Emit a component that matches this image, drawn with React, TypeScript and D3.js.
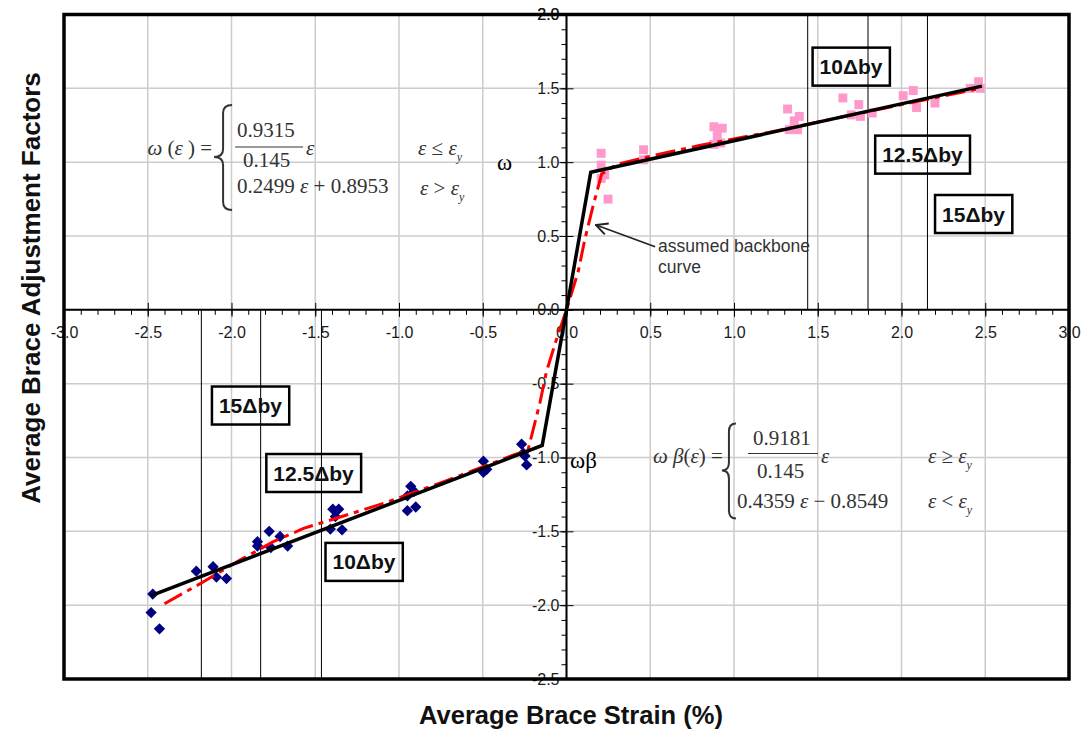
import React, { useEffect, useRef } from 'react';
import * as d3 from 'd3';

// tension side test points (pink squares)
const tensionStrain = [0.207, 0.207, 0.228, 0.207, 0.248, 0.46, 0.46, 0.88, 0.93, 0.9, 0.88, 0.92,
  1.32, 1.39, 1.36, 1.33, 1.38, 1.65, 1.745, 1.7, 1.755, 1.825, 2.01, 2.07, 2.09, 2.2, 2.41, 2.46, 2.47];
const tensionFactor = [1.06, 0.98, 0.914, 0.89, 0.75, 1.084, 1.016, 1.24, 1.23, 1.18, 1.12, 1.13,
  1.36, 1.31, 1.28, 1.22, 1.22, 1.435, 1.39, 1.32, 1.31, 1.333, 1.45, 1.485, 1.37, 1.4, 1.5, 1.545, 1.5];

// compression side test points (navy diamonds)
const compStrain = [-2.47, -2.48, -2.43, -2.21, -2.11, -2.09, -2.03, -1.845, -1.845, -1.775, -1.765, -1.71,
  -1.665, -1.395, -1.36, -1.38, -1.41, -1.34, -0.93, -0.91, -0.95, -0.9, -0.95, -0.496, -0.476, -0.496,
  -0.268, -0.258, -0.238, -0.248];
const compFactor = [-1.925, -2.05, -2.16, -1.77, -1.74, -1.81, -1.82, -1.57, -1.6, -1.5, -1.61, -1.535,
  -1.6, -1.35, -1.35, -1.4, -1.485, -1.49, -1.195, -1.23, -1.26, -1.335, -1.36, -1.025, -1.08, -1.1,
  -0.91, -0.97, -1.05, -0.99];

// assumed backbone (black)
const backboneStrain = [-2.48, -0.145, 0, 0.145, 2.48];
const backboneFactor = [-1.936, -0.918, 0, 0.9315, 1.515];

// fitted curve (red dash-dot)
const fitStrain = [-2.4, -2.29, -2.18, -1.95, -1.75, -1.57, -1.3, -1.09, -0.7, -0.32, -0.23, -0.158, -0.12,
  -0.06, 0, 0.07, 0.11, 0.16, 0.21, 0.3, 0.5, 0.8, 1.2, 1.6, 2.0, 2.47];
const fitFactor = [-1.99, -1.92, -1.85, -1.695, -1.57, -1.48, -1.385, -1.31, -1.15, -0.985, -0.95, -0.626, -0.42,
  -0.2, 0, 0.26, 0.48, 0.71, 0.92, 0.985, 1.04, 1.115, 1.2, 1.295, 1.39, 1.5];

// ductility levels
const driftLabels = ['10Δby', '12.5Δby', '15Δby'];
const tensionDrift = [1.44, 1.8, 2.155];
const compDrift = [-1.463, -1.826, -2.18];
// label box centres (data units)
const tensionLabelX = [1.699, 2.125, 2.43];
const tensionLabelY = [1.647, 1.051, 0.649];
const compLabelX = [-1.209, -1.51, -1.887];
const compLabelY = [-1.707, -1.105, -0.648];

const sans = '"Liberation Sans", Arial, sans-serif';
const serif = '"Liberation Serif", "Times New Roman", serif';

type Part = { t: string; i?: boolean; sub?: boolean };

const App = () => {
  const svgRef = useRef<SVGSVGElement>(null);

  useEffect(() => {
    const svg = d3.select(svgRef.current);
    svg.selectAll('*').remove();

    const x = d3.scaleLinear().domain([-3, 3]).range([64, 1069]);
    const y = d3.scaleLinear().domain([-2.5, 2]).range([679, 14.5]);

    const majorX = d3.range(-6, 7).map(i => i / 2);
    const majorY = d3.range(-5, 5).map(i => i / 2);
    const minorX = d3.range(-30, 31).map(i => i / 10);
    const minorY = d3.range(-25, 21).map(i => i / 10);

    // grid
    const grid = svg.append('g').attr('stroke', '#cccccc').attr('stroke-width', 1.5);
    grid.selectAll('.gx').data(majorX).enter().append('line')
      .attr('x1', d => x(d)).attr('x2', d => x(d)).attr('y1', y(2)).attr('y2', y(-2.5));
    grid.selectAll('.gy').data(majorY).enter().append('line')
      .attr('x1', x(-3)).attr('x2', x(3)).attr('y1', d => y(d)).attr('y2', d => y(d));

    // ductility lines
    svg.append('g').selectAll('line').data(tensionDrift).enter().append('line')
      .attr('x1', d => x(d)).attr('x2', d => x(d)).attr('y1', y(2)).attr('y2', y(0))
      .attr('stroke', '#000').attr('stroke-width', 1);
    svg.append('g').selectAll('line').data(compDrift).enter().append('line')
      .attr('x1', d => x(d)).attr('x2', d => x(d)).attr('y1', y(0)).attr('y2', y(-2.5))
      .attr('stroke', '#000').attr('stroke-width', 1);

    // axes through origin
    svg.append('line').attr('x1', x(-3)).attr('x2', x(3)).attr('y1', y(0)).attr('y2', y(0))
      .attr('stroke', '#000').attr('stroke-width', 2);
    svg.append('line').attr('x1', x(0)).attr('x2', x(0)).attr('y1', y(2)).attr('y2', y(-2.5))
      .attr('stroke', '#000').attr('stroke-width', 2);

    const xMinor = svg.append('g').attr('transform', `translate(0,${y(0)})`)
      .call(d3.axisBottom(x).tickValues(minorX).tickSize(5).tickFormat(() => ''));
    const xMajor = svg.append('g').attr('transform', `translate(0,${y(0)})`)
      .call(d3.axisBottom(x).tickValues(majorX).tickSize(7).tickPadding(10)
        .tickFormat(d => (+d).toFixed(1)));
    xMajor.selectAll('.tick line').attr('y1', -7);
    const yMinor = svg.append('g').attr('transform', `translate(${x(0)},0)`)
      .call(d3.axisLeft(y).tickValues(minorY).tickSize(5).tickFormat(() => ''));
    const yMajor = svg.append('g').attr('transform', `translate(${x(0)},0)`)
      .call(d3.axisLeft(y).tickValues(majorY.concat([2])).tickSize(7).tickPadding(0)
        .tickFormat(d => (+d).toFixed(1)));
    yMajor.selectAll('.tick line').attr('x1', 7);
    [xMinor, xMajor, yMinor, yMajor].forEach(g => {
      g.select('.domain').remove();
      g.selectAll('.tick line').attr('stroke', '#000').attr('stroke-width', 1);
      g.selectAll('text').style('font-family', sans).style('font-size', '16px').attr('fill', '#1a1a1a');
    });

    // frame
    svg.append('rect').attr('x', x(-3)).attr('y', y(2))
      .attr('width', x(3) - x(-3)).attr('height', y(-2.5) - y(2))
      .attr('fill', 'none').attr('stroke', '#000').attr('stroke-width', 3.5);

    // test points
    svg.append('g').selectAll('path').data(tensionStrain).enter().append('path')
      .attr('d', d3.symbol(d3.symbolSquare, 80)())
      .attr('transform', (d, i) => `translate(${x(d)},${y(tensionFactor[i])})`)
      .attr('fill', '#ff99cc');
    svg.append('g').selectAll('path').data(compStrain).enter().append('path')
      .attr('d', d3.symbol(d3.symbolSquare, 64)())
      .attr('transform', (d, i) => `translate(${x(d)},${y(compFactor[i])}) rotate(45)`)
      .attr('fill', '#000080');

    // fitted curve
    const fitLine = d3.line<number>().x(d => x(d)).y((d, i) => y(fitFactor[i]));
    svg.append('path').attr('d', fitLine(fitStrain))
      .attr('fill', 'none').attr('stroke', '#ff0000').attr('stroke-width', 3)
      .attr('stroke-dasharray', '20,6,5,6');

    // backbone
    const bbLine = d3.line<number>().x(d => x(d)).y((d, i) => y(backboneFactor[i]));
    svg.append('path').attr('d', bbLine(backboneStrain))
      .attr('fill', 'none').attr('stroke', '#000').attr('stroke-width', 3.5)
      .attr('stroke-linejoin', 'miter');

    // ductility labels
    const drawLabel = (lx: number, ly: number, label: string) => {
      const g = svg.append('g');
      const t = g.append('text').attr('x', x(lx)).attr('y', y(ly)).attr('dy', '0.36em')
        .attr('text-anchor', 'middle').style('font-family', sans).style('font-size', '21px')
        .style('font-weight', 'bold').attr('fill', '#111').text(label);
      const bb = (t.node() as SVGTextElement).getBBox();
      g.insert('rect', 'text').attr('x', bb.x - 7).attr('y', y(ly) - 19)
        .attr('width', bb.width + 14).attr('height', 38)
        .attr('fill', 'none').attr('stroke', '#000').attr('stroke-width', 2.5);
    };
    driftLabels.forEach((l, i) => drawLabel(tensionLabelX[i], tensionLabelY[i], l));
    driftLabels.forEach((l, i) => drawLabel(compLabelX[i], compLabelY[i], l));

    // arrow annotation
    const defs = svg.append('defs');
    defs.append('marker').attr('id', 'arr').attr('viewBox', '0 0 10 10').attr('refX', 9).attr('refY', 5)
      .attr('markerWidth', 9).attr('markerHeight', 9).attr('orient', 'auto')
      .append('path').attr('d', 'M1,1 L9,5 L1,9').attr('fill', 'none').attr('stroke', '#222').attr('stroke-width', 1.4);
    svg.append('line').attr('x1', x(0.529)).attr('y1', y(0.428)).attr('x2', x(0.176)).attr('y2', y(0.574))
      .attr('stroke', '#222').attr('stroke-width', 1.6).attr('marker-end', 'url(#arr)');
    const ann = svg.append('text').style('font-family', sans).style('font-size', '17.5px').attr('fill', '#333');
    ann.append('tspan').attr('x', x(0.547)).attr('y', y(0.392)).text('assumed backbone');
    ann.append('tspan').attr('x', x(0.547)).attr('dy', 21).text('curve');

    // formulas
    const brace = (g: any, w: number, top: number, bot: number) => {
      const m = w / 2;
      g.append('path')
        .attr('d', `M${w},${top} Q${m},${top} ${m},${top + 8} L${m},${-8} Q${m},0 0,0 Q${m},0 ${m},8 L${m},${bot - 8} Q${m},${bot} ${w},${bot}`)
        .attr('fill', 'none').attr('stroke', '#333').attr('stroke-width', 2);
    };
    const eq = (g: any, px: number, py: number, parts: Part[], anchor = 'start') => {
      const t = g.append('text').attr('x', px).attr('y', py).attr('text-anchor', anchor)
        .style('font-family', serif).style('font-size', '21px').attr('fill', '#333');
      parts.forEach(p => {
        const s = t.append('tspan').text(p.t);
        if (p.i) s.style('font-style', 'italic');
        if (p.sub) s.style('font-size', '12px').attr('dy', 6);
      });
    };

    const f1 = svg.append('g').attr('transform', `translate(${x(-2.104)},${y(1.035)})`);
    eq(f1, -2, -2, [{ t: 'ω', i: true }, { t: ' (' }, { t: 'ε', i: true }, { t: ' ) =' }], 'end');
    brace(f1, 18, -52, 53);
    eq(f1, 23, -20, [{ t: '0.9315' }]);
    f1.append('line').attr('x1', 21).attr('x2', 89).attr('y1', -10).attr('y2', -10).attr('stroke', '#333').attr('stroke-width', 1.2);
    eq(f1, 29, 10, [{ t: '0.145' }]);
    eq(f1, 92, -2, [{ t: 'ε', i: true }]);
    eq(f1, 204, -2, [{ t: 'ε', i: true }, { t: ' ≤ ' }, { t: 'ε', i: true }, { t: 'y', i: true, sub: true }]);
    eq(f1, 23, 36, [{ t: '0.2499 ' }, { t: 'ε', i: true }, { t: ' + 0.8953' }]);
    eq(f1, 206, 38, [{ t: 'ε', i: true }, { t: ' > ' }, { t: 'ε', i: true }, { t: 'y', i: true, sub: true }]);

    const f2 = svg.append('g').attr('transform', `translate(${x(0.928)},${y(-1.088)})`);
    eq(f2, 1, -7, [{ t: 'ω', i: true }, { t: ' β', i: true }, { t: '(' }, { t: 'ε', i: true }, { t: ') =' }], 'end');
    brace(f2, 14, -47, 48);
    eq(f2, 31, -25, [{ t: '0.9181' }]);
    f2.append('line').attr('x1', 26).attr('x2', 96).attr('y1', -17).attr('y2', -17).attr('stroke', '#333').attr('stroke-width', 1.2);
    eq(f2, 35, 8, [{ t: '0.145' }]);
    eq(f2, 99, -7, [{ t: 'ε', i: true }]);
    eq(f2, 206, -7, [{ t: 'ε', i: true }, { t: ' ≥ ' }, { t: 'ε', i: true }, { t: 'y', i: true, sub: true }]);
    eq(f2, 15, 38, [{ t: '0.4359 ' }, { t: 'ε', i: true }, { t: ' − 0.8549' }]);
    eq(f2, 206, 38, [{ t: 'ε', i: true }, { t: ' < ' }, { t: 'ε', i: true }, { t: 'y', i: true, sub: true }]);

    // omega labels
    svg.append('text').attr('x', x(-0.415)).attr('y', y(0.946)).style('font-family', serif)
      .style('font-size', '23px').attr('fill', '#000').text('ω');
    svg.append('text').attr('x', x(0.021)).attr('y', y(-1.071)).style('font-family', serif)
      .style('font-size', '23px').attr('fill', '#000').text('ωβ');

    // titles
    svg.append('text').attr('x', 571).attr('y', 724).attr('text-anchor', 'middle')
      .style('font-family', sans).style('font-size', '25.5px').style('font-weight', 'bold')
      .attr('fill', '#111').text('Average Brace Strain (%)');
    svg.append('text').attr('transform', 'translate(40,288) rotate(-90)').attr('text-anchor', 'middle')
      .style('font-family', sans).style('font-size', '26px').style('font-weight', 'bold')
      .attr('fill', '#111').text('Average Brace Adjustment Factors');
  }, []);

  return (
    <svg ref={svgRef} width={1091} height={729}
      style={{ position: 'absolute', left: 0, top: 0, background: '#fff' }} />
  );
};

export default App;
